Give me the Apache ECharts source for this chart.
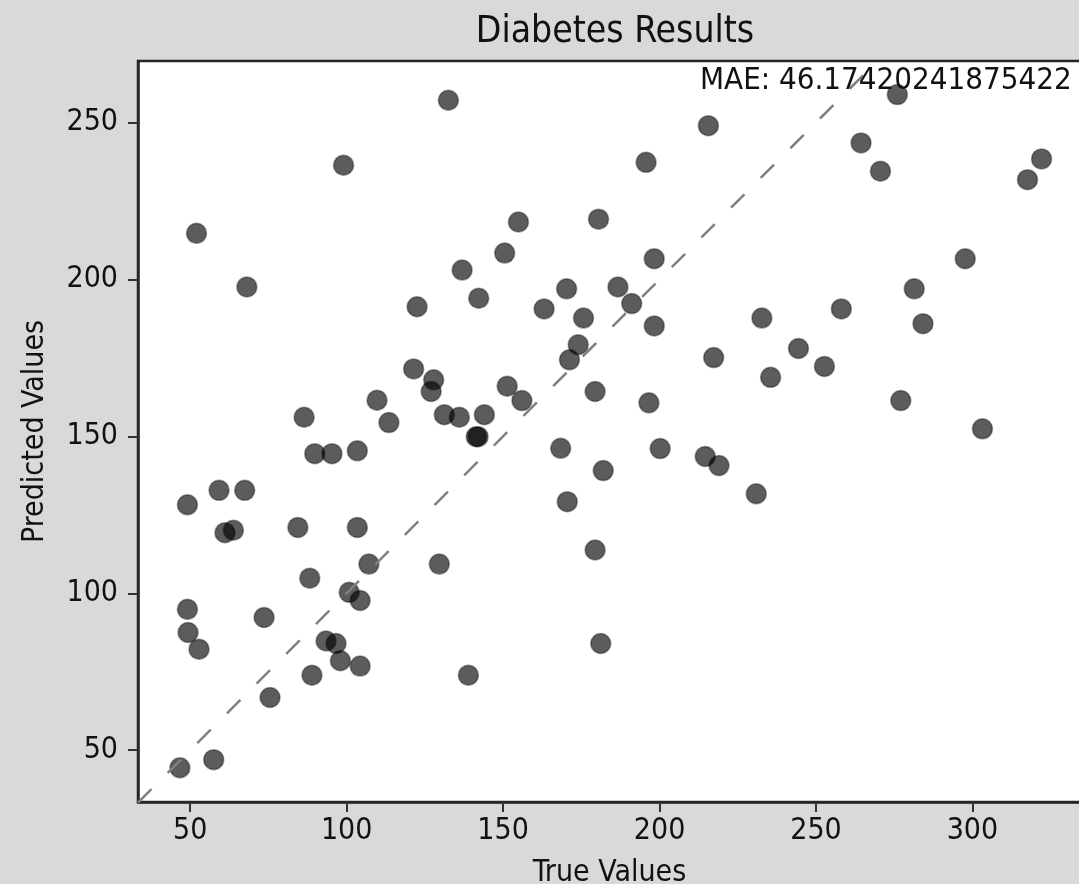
<!DOCTYPE html>
<html>
<head>
<meta charset="utf-8">
<script src="https://cdn.jsdelivr.net/npm/echarts@6/dist/echarts.min.js"></script>
<style>
  html, body { margin: 0; padding: 0; background: #d9d9d9; }
  #chart { width: 1079px; height: 884px; }
</style>
</head>
<body>
<div id="chart"></div>
<script>
// true vs predicted
var trueValues = [
  132.5, 99.0, 52.0, 68.1, 136.9, 142.2, 122.5, 215.6, 195.7, 154.9,
  180.5, 150.5, 170.3, 186.7, 163.1, 175.7, 198.3, 191.1, 198.3, 232.7,
  174.0, 276.0, 264.4, 270.6, 322.1, 317.6, 297.7, 281.4, 258.1, 284.2,
  244.4, 121.4, 127.8, 127.0, 109.7, 113.5, 86.4, 131.2, 136.0, 144.0,
  141.4, 142.0, 89.8, 95.3, 103.4, 49.1, 59.2, 67.4, 61.1, 63.8,
  84.4, 103.4, 107.1, 129.6, 88.2, 100.8, 104.3, 49.1, 73.6, 171.2,
  217.3, 235.5, 151.3, 156.0, 179.4, 196.6, 168.4, 200.2, 214.6, 219.0,
  182.0, 230.9, 170.5, 179.4, 252.7, 277.1, 303.2, 49.3, 52.8, 93.4,
  96.6, 98.0, 104.3, 88.9, 138.9, 75.5, 46.7, 57.5, 181.2
];
var predictedValues = [
  257.1, 236.4, 214.7, 197.6, 203.0, 194.0, 191.3, 249.0, 237.3, 218.3,
  219.2, 208.4, 197.0, 197.6, 190.6, 187.7, 206.6, 192.3, 185.2, 187.7,
  179.2, 258.9, 243.5, 234.5, 238.4, 231.8, 206.6, 197.0, 190.6, 185.9,
  178.0, 171.5, 168.0, 164.3, 161.5, 154.4, 156.1, 156.9, 156.1, 156.9,
  149.9, 149.9, 144.5, 144.5, 145.4, 128.2, 132.8, 132.8, 119.3, 120.1,
  121.0, 121.0, 109.3, 109.3, 104.8, 100.3, 97.7, 94.9, 92.3, 174.4,
  175.1, 168.8, 166.0, 161.4, 164.3, 160.7, 146.2, 146.1, 143.6, 140.7,
  139.1, 131.7, 129.2, 113.8, 172.3, 161.4, 152.4, 87.5, 82.2, 84.8,
  84.0, 78.5, 76.8, 73.9, 73.9, 66.8, 44.4, 47.0, 84.0
];
var xTicks = [50, 100, 150, 200, 250, 300];
var yTicks = [50, 100, 150, 200, 250];
var identityRange = [33.3, 340];   // y = x reference line
var maeText = 'MAE: 46.17420241875422';

var font = '"DejaVu Sans Condensed", "DejaVu Sans", sans-serif';

var points = trueValues.map(function (v, i) { return [v, predictedValues[i]]; });
var diag = identityRange.map(function (v) { return [v, v]; });

var chart = echarts.init(document.getElementById('chart'));

var option = {
  backgroundColor: '#d9d9d9',
  animation: false,
  title: {
    text: 'Diabetes Results',
    left: 610,
    top: 9,
    textAlign: 'center',
    textStyle: { fontFamily: font, fontSize: 37, fontWeight: 'normal', color: '#111' }
  },
  grid: {
    left: 138, top: 61, right: -2, bottom: 82,
    outerBoundsMode: 'none',
    containLabel: false,
    show: true, backgroundColor: '#fff',
    borderColor: '#262626', borderWidth: 2.5
  },
  xAxis: {
    type: 'value',
    min: 33.3, max: 334.7,
    name: 'True Values',
    nameLocation: 'middle',
    nameGap: 56,
    nameTextStyle: { fontFamily: font, fontSize: 30, color: '#111' },
    splitLine: { show: false },
    axisLine: { show: true, lineStyle: { color: '#262626', width: 2.5 } },
    axisTick: { show: true, customValues: xTicks, length: 10, lineStyle: { color: '#333', width: 2 } },
    axisLabel: { customValues: xTicks, margin: 14, fontFamily: font, fontSize: 30, color: '#111' }
  },
  yAxis: {
    type: 'value',
    min: 33.5, max: 269.6,
    name: 'Predicted Values',
    nameLocation: 'middle',
    nameGap: 88,
    nameTextStyle: { fontFamily: font, fontSize: 30, color: '#111' },
    splitLine: { show: false },
    axisLine: { show: true, lineStyle: { color: '#262626', width: 2.5 } },
    axisTick: { show: true, customValues: yTicks, length: 10, lineStyle: { color: '#333', width: 2 } },
    axisLabel: { customValues: yTicks, margin: 20, fontFamily: font, fontSize: 30, color: '#111' }
  },
  graphic: [{
    type: 'text',
    left: 700,
    top: 65,
    z: 100,
    style: { text: maeText, fontFamily: font, fontSize: 31, fill: '#111' }
  }],
  series: [{
    type: 'scatter',
    data: points,
    symbolSize: 20,
    itemStyle: {
      opacity: 1,
      color: 'rgba(0,0,0,0.64)',
      borderColor: 'rgba(0,0,0,0.35)',
      borderWidth: 1.5
    }
  }, {
    type: 'line',
    data: diag,
    symbol: 'none',
    clip: true,
    lineStyle: { color: '#808080', width: 2.5, type: [19, 23] },
    z: 3
  }]
};

chart.setOption(option);
</script>
</body>
</html>
